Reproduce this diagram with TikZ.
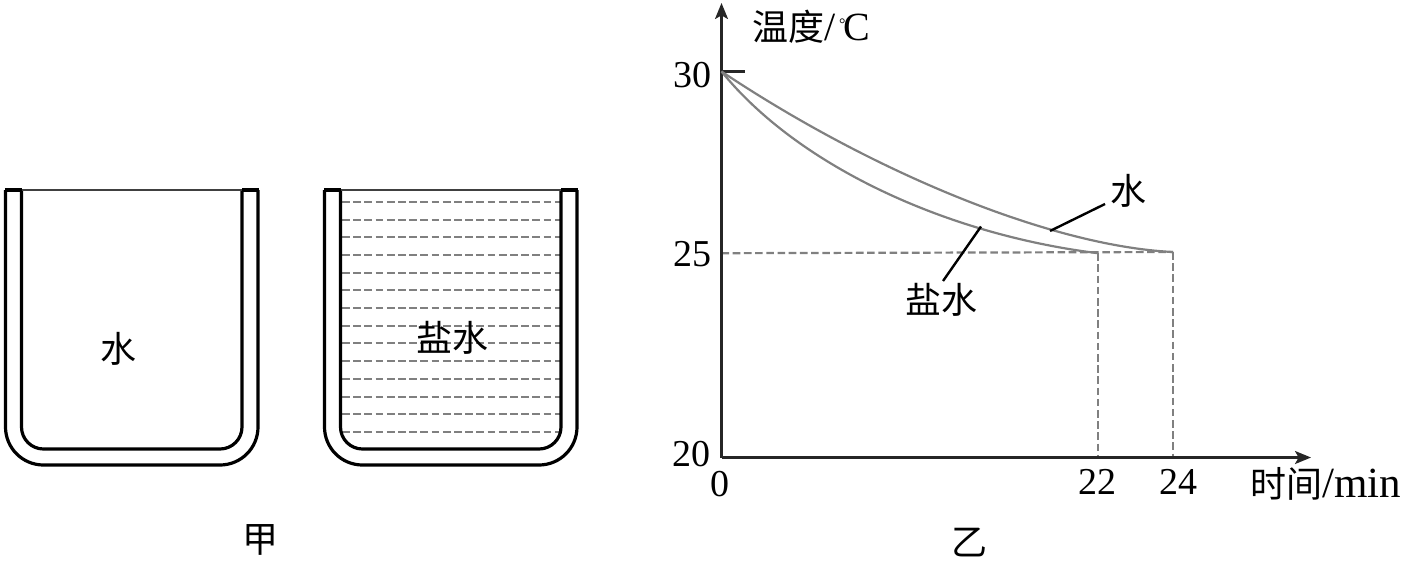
\documentclass[tikz,border=0pt]{standalone}
\usepackage{fontspec}
\setmainfont{Liberation Serif}
\newfontfamily\cjk{Noto Sans CJK SC}
\usetikzlibrary{arrows.meta}
\tikzset{
  wall/.style={line width=1.6pt,black},
  rim/.style={line width=0.9pt,black!75},
  axisline/.style={line width=1.1pt,black!85,-{Stealth[length=8pt,width=6.5pt,inset=1.8pt]}},
  coolcurve/.style={line width=1.1pt,black!50},
  guide/.style={line width=1.1pt,black!50,dash pattern=on 3.8pt off 1.8pt},
  brine/.style={line width=1.1pt,black!50,dash pattern=on 3.9pt off 1.7pt},
  leader/.style={line width=1.2pt,black},
  cn/.style={font=\cjk\fontsize{18}{18}\selectfont,inner sep=0pt},
  num/.style={font=\fontsize{19}{19}\selectfont,inner sep=0pt}
}
\begin{document}
\begin{tikzpicture}[x=0.5pt,y=-0.5pt]
\path[use as bounding box] (0,0) rectangle (1406,563);
% left beaker
\draw[wall,rounded corners=19pt] (5.5,190) -- (5.5,465) -- (258,465) -- (258,190);
\draw[wall,rounded corners=11pt] (21.5,190) -- (21.5,449) -- (242,449) -- (242,190);
\draw[wall] (4.75,190) -- (21.5,190) (242,190) -- (258.75,190);
\draw[rim] (21.5,190) -- (242,190);
% right beaker
\foreach \yy in {202,220,237,255,273,290,308,326,343,361,379,397,414,432}
  \draw[brine] (342,\yy) -- (560,\yy);
\draw[wall,rounded corners=19pt] (324.5,190) -- (324.5,465) -- (577,465) -- (577,190);
\draw[wall,rounded corners=11pt] (340.5,190) -- (340.5,449) -- (561,449) -- (561,190);
\draw[wall] (323.75,190) -- (340.5,190) (561,190) -- (577.75,190);
\draw[rim] (340.5,190) -- (561,190);
\node[cn] (waterA) at (118,349) {水};
\node[cn] (saltA) at (452,338) {盐水};
\node[cn] (capA) at (260,540) {甲};
% chart
\coordinate (O) at (721.5,457.5);
\coordinate (ytop) at (721.5,3);
\coordinate (xend) at (1311,457.5);
\coordinate (t30) at (721.5,71.5);
\coordinate (t30e) at (745,71.5);
\coordinate (y25) at (721.5,253.2);
\coordinate (w) at (1173,252);
\coordinate (s) at (1098,253.2);
\coordinate (wb) at (1173,457.5);
\coordinate (sb) at (1098,457.5);
\coordinate (wl) at (1050,231);
\coordinate (wle) at (1105,204);
\coordinate (sl) at (981,226.5);
\coordinate (sle) at (943,281);
\draw[guide] (y25) -- (w);
\draw[guide] (s) -- (sb);
\draw[guide] (w) -- (wb);
\draw[axisline] (O) -- (ytop);
\draw[axisline] (O) -- (xend);
\draw[line width=1.1pt,black!85] (t30) -- (t30e);
\draw[coolcurve] (t30) .. controls (871.5,171.5) and (1050,246) .. (w);
\draw[coolcurve] (t30) .. controls (800,168) and (950,235) .. (s);
\draw[leader] (wl) -- (wle);
\draw[leader] (sl) -- (sle);
\node[cn] (waterB) at (1128,191) {水};
\node[cn] (saltB) at (941,300) {盐水};
\node[cn] (capB) at (969,542) {乙};
\node[num] (n30) at (692.5,75) {30};
\node[num] (n25) at (692.5,254) {25};
\node[num] (n20) at (691.5,454) {20};
\node[num] (n0) at (720,484) {0};
\node[num] (n22) at (1097,482) {22};
\node[num] (n24) at (1178,482) {24};
\node[anchor=west,inner sep=0pt] (ylab) at (752,27) {\cjk\fontsize{18}{18}\selectfont 温度\fontsize{20}{20}\selectfont\rmfamily/\hspace{1.8pt}\raisebox{5.5pt}{\fontsize{8}{8}\selectfont°}\hspace{-1.2pt}C};
\node[anchor=west,inner sep=0pt] (xlab) at (1250,484) {\cjk\fontsize{18}{18}\selectfont 时间\fontsize{21.5}{21.5}\selectfont\rmfamily/min};
\end{tikzpicture}
\end{document}
